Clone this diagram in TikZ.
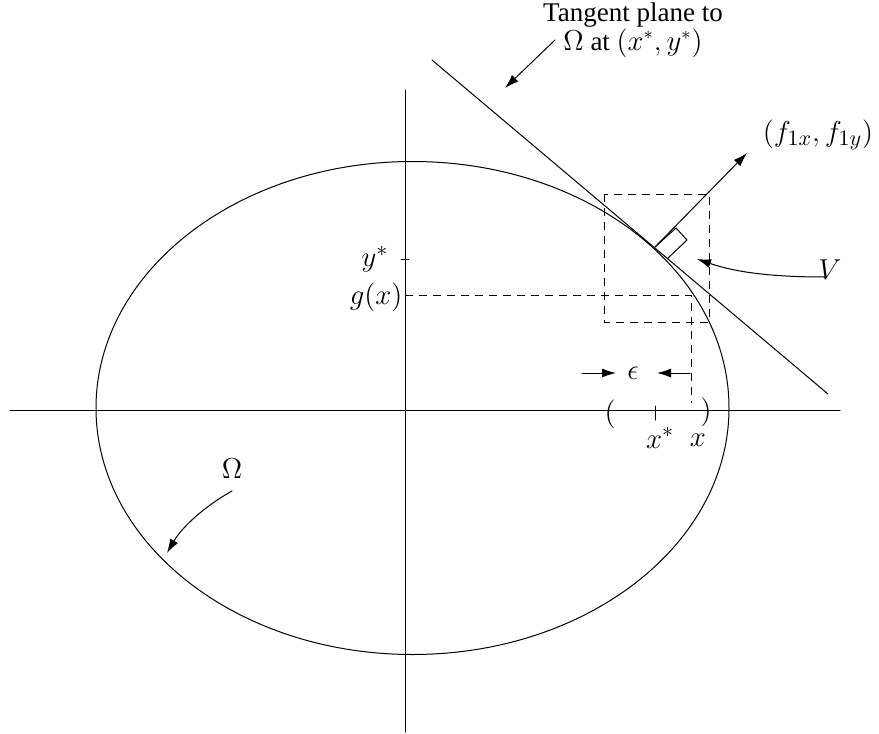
\documentclass[tikz,border=0pt]{standalone}
\usepackage[no-math]{fontspec}
\setmainfont{Liberation Serif}
\usetikzlibrary{arrows.meta}
\tikzset{
  thin line/.style={line width=0.5pt, line cap=round},
  dashline/.style={line width=0.5pt, dash pattern=on 4pt off 3pt},
  arr/.style={thin line, -{Latex[length=7pt,width=4.5pt]}},
  lbl/.style={inner sep=0pt, font=\fontsize{15}{15}\selectfont},
  tlbl/.style={inner sep=0pt, font=\fontsize{13.5}{14.5}\selectfont}
}
\begin{document}
\begin{tikzpicture}[x=0.5pt,y=-0.5pt]
\useasboundingbox (0,0) rectangle (879,734);
% axes
\coordinate (hl) at (10,410); \coordinate (hr) at (840,410);
\coordinate (vt) at (405,90); \coordinate (vb) at (405,732);
\draw[thin line] (hl) -- (hr);
\draw[thin line] (vt) -- (vb);
% ellipse Omega
\coordinate (oc) at (412.5,408);
\draw[thin line] (oc) ellipse [x radius=316.5, y radius=246.5];
% tangent line
\coordinate (t1) at (432,60); \coordinate (t2) at (828,394);
\draw[thin line] (t1) -- (t2);
% dashed box V
\coordinate (b1) at (604,194); \coordinate (b2) at (709,322);
\draw[dashline] (b1) rectangle (b2);
% g(x) dashed lines
\coordinate (g0) at (405,295); \coordinate (g1) at (691,295); \coordinate (g2) at (691,403);
\draw[dashline] (g0) -- (g1) -- (g2);
% ticks
\coordinate (ys1) at (401,259); \coordinate (ys2) at (409,259);
\draw[thin line] (ys1) -- (ys2);
\coordinate (xs1) at (655,406); \coordinate (xs2) at (655,420);
\draw[thin line] (xs1) -- (xs2);
% normal vector with right angle mark
\coordinate (n0) at (655,247); \coordinate (n1) at (747,153);
\draw[arr] (n0) -- (n1);
\coordinate (r1) at (676,228); \coordinate (r2) at (687,240); \coordinate (r3) at (667,259);
\draw[thin line, line cap=butt] (n0) -- (r1) -- (r2) -- (r3);
% labels
\node[tlbl, align=center] (tp) at (633,30) {Tangent plane to\\$\Omega$ at $(x^*,y^*)$};
\coordinate (tpa) at (555,40); \coordinate (tpb) at (505,88);
\draw[arr] (tpa) -- (tpb);
\node[lbl] (fl) at (818,135) {$(f_{1x},f_{1y})$};
\node[lbl] (vl) at (830,270) {$V$};
\coordinate (va) at (825,277); \coordinate (vb2) at (697,259);
\draw[arr] (va) .. controls (770,277) and (735,272) .. (vb2);
\node[lbl] (ysl) at (375,259) {$y^*$};
\node[lbl] (gxl) at (376,297) {$g(x)$};
\node[lbl] (eps) at (633,373) {$\epsilon$};
\coordinate (e1) at (582,373); \coordinate (e2) at (616,373);
\coordinate (e3) at (690,373); \coordinate (e4) at (657,373);
\draw[arr] (e1) -- (e2);
\draw[arr] (e3) -- (e4);
\node[lbl] (lp) at (610,414) {$($};
\node[lbl] (rp) at (706,412) {$)$};
\node[lbl] (xsl) at (660,438) {$x^*$};
\node[lbl] (xl) at (698,440) {$x$};
\node[lbl] (om) at (232,469) {$\Omega$};
\coordinate (oa) at (232,491); \coordinate (ob) at (167,553);
\draw[arr] (oa) .. controls (205,506) and (182,527) .. (ob);
\end{tikzpicture}
\end{document}
